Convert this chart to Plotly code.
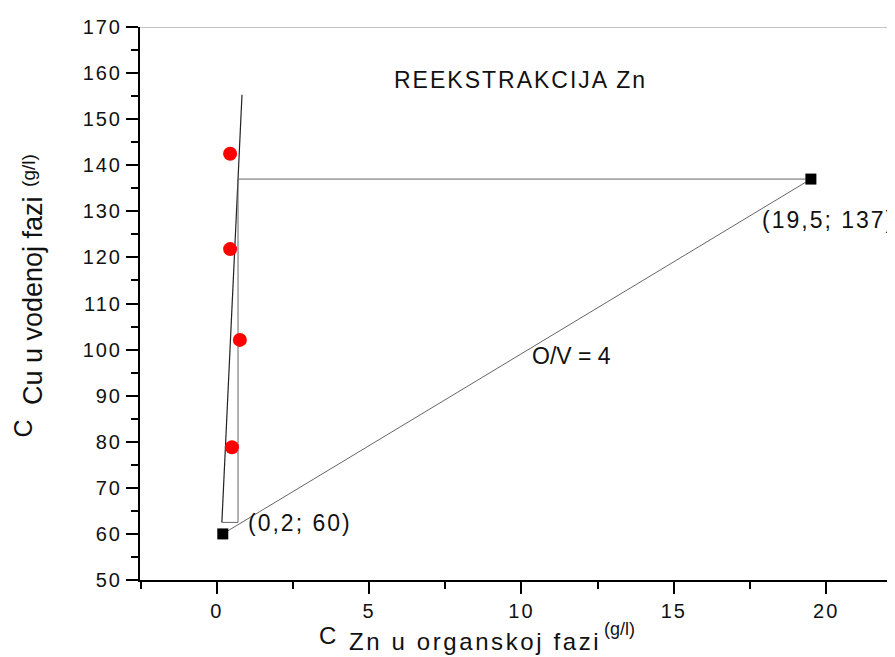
import plotly.graph_objects as go

# ---- data ----
square_x = [0.2, 19.5]
square_y = [60, 137]
red_x = [0.44, 0.44, 0.76, 0.50]
red_y = [142.5, 121.8, 102.1, 78.8]
eq_x = [0.17, 0.83]
eq_y = [62.5, 155.3]
op_x = [0.2, 19.5]
op_y = [60, 137]
step_x = [0.17, 0.70, 0.70, 19.5]
step_y = [62.5, 62.5, 137, 137]
x_ticks = [0, 5, 10, 15, 20]
y_ticks = [50, 60, 70, 80, 90, 100, 110, 120, 130, 140, 150, 160, 170]

FONT = "Liberation Sans, Arial, sans-serif"
LS = "letter-spacing:2px"


def spaced(t, ls=LS):
    return "<span style='%s'>%s</span>" % (ls, t)


fig = go.Figure()
fig.add_trace(go.Scatter(x=eq_x, y=eq_y, mode="lines",
                         line=dict(color="#222222", width=1.2), showlegend=False))
fig.add_trace(go.Scatter(x=op_x, y=op_y, mode="lines",
                         line=dict(color="#666666", width=1), showlegend=False))
fig.add_trace(go.Scatter(x=step_x, y=step_y, mode="lines",
                         line=dict(color="#666666", width=1), showlegend=False))
fig.add_trace(go.Scatter(x=red_x, y=red_y, mode="markers",
                         marker=dict(color="#ff0000", size=14, symbol="circle"),
                         showlegend=False))
fig.add_trace(go.Scatter(x=square_x, y=square_y, mode="markers",
                         marker=dict(color="#000000", size=11, symbol="square"),
                         showlegend=False))

# thin top border at y = 170
fig.add_shape(type="line", xref="paper", yref="y", x0=0, x1=1, y0=170, y1=170,
              line=dict(color="#888888", width=1))

ann_font = dict(family=FONT, size=23, color="#111111")
fig.add_annotation(x=17.83, y=128.1, text=spaced("(19,5; 137)"), showarrow=False,
                   xanchor="left", yanchor="middle", font=ann_font)
fig.add_annotation(x=0.96, y=62.3, text=spaced("(0,2; 60)"), showarrow=False,
                   xanchor="left", yanchor="middle", font=ann_font)
fig.add_annotation(x=5.75, y=158.5, text=spaced("REEKSTRAKCIJA Zn"), showarrow=False,
                   xanchor="left", yanchor="middle", font=ann_font)
fig.add_annotation(x=10.28, y=98.6, text="O/V = 4",
                   showarrow=False, xanchor="left", yanchor="middle", font=ann_font)

# ---- x axis title pieces (C, subscript, (g/l)) ----
def xs(px):
    return (px - 216.7) / 30.47

fig.add_annotation(xref="x", yref="paper", x=xs(317), y=0, yshift=-(635 - 580),
                   text=spaced("C"), showarrow=False, xanchor="left", yanchor="middle",
                   font=dict(family=FONT, size=24, color="#111111"))
fig.add_annotation(xref="x", yref="paper", x=xs(347), y=0, yshift=-(641 - 580),
                   text=spaced("Zn u organskoj fazi", "letter-spacing:2.6px"),
                   showarrow=False, xanchor="left", yanchor="middle",
                   font=dict(family=FONT, size=24, color="#111111"))
fig.add_annotation(xref="x", yref="paper", x=xs(602), y=0, yshift=-(629 - 580),
                   text="(g/l)", showarrow=False,
                   xanchor="left", yanchor="middle",
                   font=dict(family=FONT, size=18, color="#111111"))

# ---- y axis title pieces (rotated) ----
def ys(py):
    return 50 + (580 - py) / 4.625

fig.add_annotation(xref="paper", yref="y", x=0, xshift=23 - 140, y=ys(428),
                   text="C", textangle=-90, showarrow=False,
                   xanchor="center", yanchor="middle",
                   font=dict(family=FONT, size=25, color="#111111"))
fig.add_annotation(xref="paper", yref="y", x=0, xshift=33 - 140, y=ys(407),
                   text="Cu u vodenoj fazi", textangle=-90, showarrow=False,
                   xanchor="center", yanchor="bottom",
                   font=dict(family=FONT, size=27, color="#111111"))
fig.add_annotation(xref="paper", yref="y", x=0, xshift=29 - 140, y=ys(188),
                   text="(g/l)", textangle=-90, showarrow=False,
                   xanchor="center", yanchor="bottom",
                   font=dict(family=FONT, size=19, color="#111111"))

fig.update_layout(
    width=895, height=657,
    margin=dict(l=132, r=8, t=17, b=85),
    plot_bgcolor="white", paper_bgcolor="white",
    font=dict(family=FONT, size=20, color="#111111"),
    xaxis=dict(range=[-2.517, 22.26], tickvals=x_ticks,
               ticktext=[spaced(str(v)) for v in x_ticks],
               ticks="outside", ticklen=12,
               tickwidth=2, tickcolor="black", showline=True, linecolor="black",
               linewidth=2, showgrid=False, zeroline=False,
               minor=dict(dtick=2.5, tick0=0, ticks="outside", ticklen=7,
                          tickwidth=2, tickcolor="black")),
    yaxis=dict(range=[50, 170], tickvals=y_ticks,
               ticktext=[spaced(str(v)) for v in y_ticks],
               ticks="outside", ticklen=12,
               tickwidth=2, tickcolor="black", showline=True, linecolor="black",
               linewidth=2, showgrid=False, zeroline=False,
               minor=dict(dtick=5, tick0=0, ticks="outside", ticklen=7,
                          tickwidth=2, tickcolor="black")),
)

fig.write_html("out.html")
